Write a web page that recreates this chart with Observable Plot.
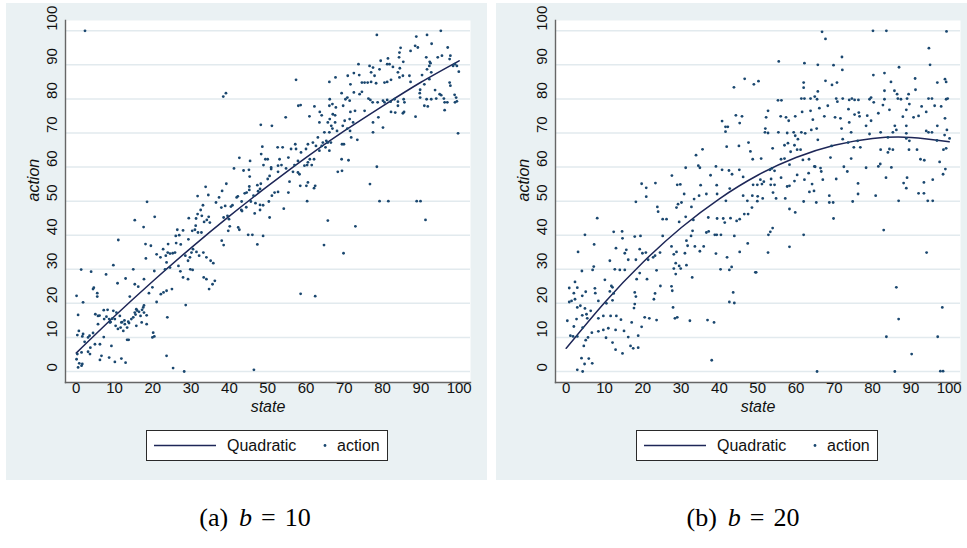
<!DOCTYPE html>
<html>
<head>
<meta charset="utf-8">
<script src="https://cdn.jsdelivr.net/npm/d3@7"></script>
<script src="https://cdn.jsdelivr.net/npm/@observablehq/plot@0.6"></script>
<style>
  html, body { margin: 0; padding: 0; background: #ffffff; }
  #page { position: relative; width: 967px; height: 548px; overflow: hidden; font-family: "Liberation Sans", Arial, sans-serif; }
  .panel { position: absolute; top: 3px; height: 477px; background: #eaf1f3; overflow: hidden; }
  .panel svg.chart { display: block; max-width: none; width: 481px; height: 420px; }
  .legend { position: absolute; left: 140px; top: 427px; width: 242px; height: 31px; box-sizing: border-box;
            background: #ffffff; border: 1px solid #2a2a2a; font-size: 16px; color: #111; }
  .legend .key { position: absolute; top: 50%; transform: translateY(-50%); white-space: nowrap; }
  .caption { position: absolute; top: 503px; width: 240px; text-align: center; white-space: nowrap;
             font-family: "Liberation Serif", "Times New Roman", serif; font-size: 26px; line-height: 30px; color: #000; }
  .caption .gap1 { margin-left: 11px; }
  .caption .gap2 { margin-left: 9px; margin-right: 9px; }
</style>
</head>
<body>
<div id="page">
  <div class="panel" id="panelA"></div>
  <div class="panel" id="panelB"></div>
  <div class="caption" id="capA"></div>
  <div class="caption" id="capB"></div>
</div>
<script>
// Axis ticks (both axes run 0..100 by 10)
const xTicks = [0, 10, 20, 30, 40, 50, 60, 70, 80, 90, 100];
const yTicks = [0, 10, 20, 30, 40, 50, 60, 70, 80, 90, 100];

// Quadratic fit of action on state, sampled at each x tick
const fitX = [0, 10, 20, 30, 40, 50, 60, 70, 80, 90, 100];
const fitA = [5.4, 16.2, 26.5, 36.3, 45.6, 54.4, 62.8, 70.6, 77.9, 84.9, 91.2];
const fitB = [6.8, 20.2, 32.0, 42.2, 50.7, 57.6, 62.8, 66.4, 68.4, 68.7, 67.4];

// Observations [state, action], b = 10
const pointsA = [
[2.3,100],[38.4,80.7],[39.1,81.7],[48.2,72.4],
[48.6,66.0],[48.3,63.8],[48.9,60.6],[42.6,62.7],[45.4,61.8],[43.7,59.0],[41.2,59.6],[45.1,59.2],[45.3,57.2],[49.4,62.3],[47.3,54.7],
[33.8,54.2],[34.5,51.8],[31.7,51.5],[39.2,55.1],[38.1,53.0],[37.3,51.1],[36.5,49.6],[18.5,49.8],[41.9,51.1],[42.2,51.4],[40.8,48.8],[43.2,49.9],[44.0,52.3],[44.5,52.5],[45.2,53.3],[45.2,54.3],[46.3,51.6],[45.6,49.9],[46.8,49.4],[48.0,48.9],[48.0,53.6],[48.2,55.1],[47.5,52.9],
[37.9,48.1],[38.9,48.6],[40.4,48.4],[43.1,47.4],[43.3,47.1],[44.4,48.2],[46.6,46.4],[48.0,47.4],[48.8,48.8],[38.5,45.2],[39.5,45.7],[39.9,44.7],[40.1,42.6],[39.7,41.3],[42.3,42.3],[42.6,41.6],[44.9,40.1],[46.0,40.1],[48.8,39.8],[47.3,37.3],
[33.1,48.8],[32.5,47.4],[31.7,46.2],[32.8,45.7],[31.3,44.9],[33.4,43.9],[34.1,44.5],[34.6,45.4],[31.2,42.8],[29.4,45.0],[31.0,41.6],[31.8,40.8],[26.4,41.6],[26.0,39.8],[26.9,40.0],[32.7,40.8],[30.3,41.3],[27.9,41.4],[34.9,43.7],[38.0,38.4],[38.5,37.1],[29.3,38.8],
[26.1,37.7],[27.3,37.3],[24.0,37.4],[22.7,35.9],[23.9,34.9],[24.5,34.6],[25.2,34.7],[25.8,34.9],[23.4,34.0],[23.6,32.0],[21.0,34.4],[22.0,33.5],[20.4,29.5],[18.1,37.4],[18.2,33.2],[19.5,36.9],[23.2,30.0],[24.5,30.5],[26.7,31.0],[27.2,29.4],[27.9,27.6],[28.5,34.0],[29.2,32.5],[29.7,33.5],[30.1,34.9],[30.5,35.9],[31.4,35.1],[32.1,34.0],[33.2,34.9],[34.0,33.5],[35.1,32.5],[35.8,31.8],[36.2,26.6],[35.6,25.6],[34.7,24.2],[33.3,27.6],[34.0,27.1],[29.8,30.0],[30.4,29.8],[29.2,27.1],[28.6,19.5],
[10.8,25.9],[12.9,27.3],[15.3,25.6],[16.2,24.9],[17.7,27.1],[14.9,30.0],[9.7,31.2],[11.0,38.6],[15.3,44.4],[17.6,42.4],[20.5,45.4],[1.3,29.9],[3.9,29.3],[4.4,24.2],[5.5,23.0],[5.5,22.0],[0.1,22.2],[1.8,20.3],[0.5,16.6],[7.8,28.5],[14.0,22.0],[19.0,23.0],[19.9,24.7],[21.0,20.4],[22.1,22.7],[22.8,23.2],[23.6,23.7],[25.0,24.2],[23.8,15.9],
[5.0,16.8],[5.7,16.3],[7.2,18.0],[8.2,18.1],[7.3,15.4],[5.7,13.9],[7.9,16.1],[8.6,15.4],[9.7,17.8],[10.1,15.4],[10.5,17.3],[11.4,16.3],[11.8,14.4],[10.3,13.4],[11.6,12.9],[12.7,13.9],[13.3,12.9],[12.3,11.9],[13.6,14.6],[14.4,15.4],[15.3,17.3],[15.7,18.3],[16.4,17.5],[16.8,16.3],[17.5,18.8],[17.7,17.3],[18.4,16.5],[17.1,14.4],[18.4,13.9],[15.7,13.4],[20.1,11.4],[19.9,10.0],[20.4,10.3],[13.7,9.3],[8.8,14.4],[9.2,7.5],[7.2,10.1],[6.2,8.0],[4.9,8.0],[3.5,10.5],[4.4,11.3],[3.1,10.0],[1.8,11.0],[1.6,10.3],[0.7,11.9],[0.3,10.7],[2.2,8.7],[3.7,7.0],[3.1,5.8],[3.6,5.1],[0.3,5.1],[1.4,5.6],[0.1,3.6],[0.8,2.4],[0.5,1.2],[1.4,1.7],[1.6,2.2],[6.6,4.6],[6.2,3.4],[8.6,4.1],[10.1,2.8],[11.8,3.8],[12.9,2.6],[23.6,4.6],[25.3,1.0],[28.2,0],[46.4,0.5],
[4.6,24.6],[6.1,16.4],[9.0,14.5],[9.4,15.5],[10.9,12.5],[12.0,14.5],[12.6,15.0],[13.8,14.2],[14.9,15.9],[15.5,16.7],[15.9,17.9],[17.2,18.1],[17.7,19.4],[13.3,9.3],
[95.2,100],[78.5,98.8],[88.8,98.3],[91.6,98.8],[92.8,96.2],[84.7,95.0],[84.4,93.6],[87.3,94.1],[88.5,95.6],[89.2,95.1],[97.0,95.1],[91.4,92.2],[92.3,90.9],[94.4,92.2],[95.5,92.7],[97.7,92.7],[97.5,91.7],[84.3,92.2],[81.4,91.9],[79.5,91.2],[81.2,90.2],[81.8,90.2],[82.7,89.4],[84.5,89.0],[85.4,90.9],[84.0,87.8],[84.4,86.3],[85.3,86.8],[87.0,86.8],[87.3,85.0],[90.3,87.0],[91.6,88.7],[92.5,90.5],[92.2,89.7],[92.7,87.8],[92.2,85.8],[90.9,84.3],[89.8,82.7],[89.7,81.7],[89.8,80.4],[91.5,79.9],[91.8,77.8],[90.9,78.0],[92.7,79.9],[93.7,82.6],[94.0,80.1],[94.9,81.4],[95.3,81.1],[96.0,80.1],[96.2,79.0],[96.9,79.0],[96.2,76.7],[97.5,84.8],[97.7,83.9],[98.4,89.7],[98.9,90.2],[99.4,89.7],[99.9,88.0],[98.8,81.2],[99.2,80.4],[98.9,79.0],[99.4,79.3],[99.7,69.9],[88.6,74.8],[88.9,50.0],[89.9,50.0],[91.2,44.5],[79.2,50.0],[81.5,50.0],[78.5,60.1],[76.7,55.0],[72.9,42.6],[69.8,34.7],[65.7,44.3],[64.7,37.1],[58.6,22.8],[62.4,22.1],[57.4,85.6],[51.1,72.1],[54.7,74.6],
[73.7,90.2],[76.6,89.7],[77.5,89.2],[77.0,87.8],[77.9,86.8],[79.2,88.7],[70.9,86.8],[72.5,87.6],[73.9,87.0],[74.6,84.8],[75.3,84.8],[76.1,84.8],[77.0,85.0],[78.3,84.6],[80.5,84.8],[81.2,85.0],[82.2,85.6],[66.1,85.0],[67.7,86.3],[69.3,81.7],[71.6,84.3],[66.2,79.9],[66.9,78.5],[67.8,77.5],[70.3,79.9],[70.8,80.4],[71.4,79.5],[72.5,81.9],[74.0,81.4],[74.6,82.1],[76.3,80.1],[76.8,79.7],[77.4,79.0],[78.7,79.0],[80.1,79.5],[80.5,79.0],[81.2,79.7],[82.1,79.2],[83.1,79.9],[84.0,79.2],[85.5,79.9],[85.7,79.0],[82.2,76.2],[83.3,76.0],[84.0,78.0],[85.3,75.8],[85.6,76.2],[78.9,74.6],[80.1,71.6],[77.5,73.1],[77.5,70.2],[75.3,76.5],[72.8,76.5],[71.6,76.2],[71.4,74.1],[72.3,73.1],[71.8,68.7],[73.4,68.0],[71.5,70.6],[70.8,71.3],[69.6,72.1],[70.1,73.6],[69.7,78.0],[66.1,78.0],[67.0,75.5],[67.6,75.2],[66.2,74.1],[67.6,73.1],[68.1,70.6],[66.6,72.1],[66.9,71.3],[66.1,70.2],[65.7,73.1],[64.8,70.2],[63.5,73.1],[64.1,75.2],[63.6,76.2],[62.2,77.8],[60.9,74.9],[58.6,78.2],[58.0,78.0],
[63.1,68.7],[64.4,67.2],[65.3,67.7],[65.7,67.2],[66.5,67.2],[69.4,66.7],[69.9,66.7],[63.5,64.8],[64.1,66.2],[65.1,65.8],[66.1,64.8],[61.8,67.2],[62.6,66.2],[60.5,66.7],[60.0,65.3],[58.7,64.3],[57.4,65.3],[57.2,66.7],[56.1,65.3],[53.9,65.8],[52.6,65.8],[53.1,62.3],[55.4,62.8],[57.9,61.8],[60.5,61.4],[61.0,62.3],[62.1,62.3],[60.3,60.6],[61.5,60.6],[57.0,60.6],[53.6,60.6],[52.7,60.4],[50.9,59.9],[50.0,62.3],
[50.5,57.4],[50.0,56.5],[50.9,59.4],[52.7,58.6],[54.8,59.6],[56.6,58.6],[57.9,58.4],[58.3,57.9],[59.6,60.4],[55.7,55.7],[60.5,55.5],[60.1,54.5],[62.4,54.5],[62.1,53.8],[58.5,54.5],[51.8,52.5],[52.7,52.7],[51.1,51.6],[50.3,49.9],[55.4,52.5],[54.2,47.8],[50.5,45.2],[60.3,50.0],[68.3,58.6],[69.4,58.9],[69.3,62.3],[71.1,62.0]
];

// Observations [state, action], b = 20
const pointsB = [
[46.6,85.9],[43.8,83.4],[49.0,84.3],[40.7,73.5],[41.6,71.8],[42.2,71.8],[41.6,70.4],[41.9,66.0],[44.3,75.2],[45.9,74.9],[45.3,72.9],[45.1,66.2],[47.6,67.2],[48.1,64.6],[48.7,62.3],[35.6,65.2],[33.9,63.5],[34.5,60.4],[34.9,59.8],[31.2,59.8],[27.6,57.5],[19.7,55.1],[20.9,53.9],[23.3,55.3],[20.9,51.3],[18.2,49.8],[29.0,54.8],[29.8,54.9],[30.8,52.1],[28.8,48.1],[29.2,49.1],[30.1,49.6],[29.5,43.9],[31.2,45.4],[32.7,48.3],[33.4,50.6],[33.2,44.5],[35.1,54.7],[34.7,51.6],[36.6,52.1],[37.7,57.6],[39.1,60.2],[39.3,54.7],[39.4,52.1],[40.7,59.2],[42.5,59.0],[42.7,53.7],[43.3,57.9],[45.2,59.2],[46.2,57.1],[46.2,51.6],[47.3,50.1],[48.6,51.6],[48.8,54.8],[48.5,48.1],[47.5,46.2],[46.5,46.2],[45.3,44.7],[44.5,44.2],[42.9,45.0],[41.0,44.9],[39.4,44.9],[41.7,50.1],[37.1,45.2],[38.8,40.1],[39.3,40.1],[40.4,40.1],[36.6,40.8],[37.2,41.1],[33.0,41.3],[32.6,39.8],[31.4,38.4],[31.7,36.9],[31.0,34.7],[33.6,36.7],[34.9,35.3],[35.9,36.7],[32.9,27.6],[31.4,31.2],[27.5,36.7],[28.1,34.4],[28.8,35.1],[28.6,31.8],[29.5,31.0],[29.9,30.2],[28.1,30.2],[28.6,28.6],[27.5,25.0],[27.7,23.7],[27.9,18.8],[28.4,15.6],[29.0,15.9],[32.3,14.9],[36.9,15.1],[38.6,14.4],[38.0,3.3],[39.1,34.6],[40.3,30.0],[42.0,33.5],[42.6,29.8],[43.2,30.7],[43.6,23.2],[42.6,20.4],[43.9,20.1],[45.3,35.1],[47.4,37.6],[49.4,29.1],[43.9,39.8],[41.4,43.7],
[8.1,45.0],[4.9,40.1],[3.1,35.1],[4.1,29.5],[6.9,29.8],[7.2,30.8],[7.3,37.3],[0.8,24.5],[2.3,26.3],[2.9,24.6],[2.0,23.0],[1.4,20.7],[0.8,20.4],[2.3,21.2],[2.9,18.8],[3.7,19.3],[4.9,18.5],[5.1,23.4],[4.2,22.2],[0.3,14.9],[2.0,13.2],[2.7,15.4],[4.2,16.5],[5.3,16.8],[5.5,15.6],[6.4,17.8],[4.3,12.9],[1.1,10.5],[1.8,10.3],[2.9,10.3],[5.1,9.2],[5.7,10.0],[6.7,11.4],[4.6,7.5],[4.0,3.9],[5.9,3.8],[4.8,2.2],[6.8,2.4],[2.9,0.5],[4.3,0],[7.5,24.4],[7.6,23.0],[8.4,20.7],[8.4,15.6],[9.7,16.3],[10.5,20.0],[11.4,23.5],[11.8,25.1],[10.1,26.9],[12.1,24.7],[12.1,20.9],[12.4,22.9],[11.4,32.5],[12.7,30.0],[14.0,29.8],[15.3,29.8],[12.4,41.0],[13.0,36.2],[14.6,41.1],[14.7,39.1],[15.7,35.7],[15.3,34.7],[16.2,32.8],[17.9,39.6],[18.2,32.8],[19.2,35.9],[19.4,39.8],[18.4,27.1],[19.2,28.9],[19.9,34.7],[20.8,34.9],[21.4,32.8],[22.7,33.5],[23.2,34.0],[23.6,29.7],[21.1,27.1],[24.6,25.1],[25.2,39.8],[24.5,34.9],[23.2,22.9],[22.9,21.2],[23.6,15.1],[20.5,15.9],[21.7,15.6],[19.7,13.1],[18.8,10.5],[17.9,23.2],[18.2,22.0],[17.9,19.8],[17.7,18.6],[17.1,14.4],[14.3,15.2],[13.1,16.3],[12.9,12.2],[11.6,16.3],[11.0,12.7],[9.7,12.2],[8.4,11.8],[10.4,9.9],[12.1,8.5],[12.9,6.4],[14.7,5.3],[15.1,11.9],[16.2,10.1],[16.8,7.5],[17.5,6.8],[18.8,7.0],[25.2,44.7],[26.2,44.7],[24.0,46.9],[23.8,48.3],
[66.8,99.7],[67.7,97.6],[80.1,100],[83.6,100],[99.3,99.8],[94.7,94.9],[95.0,90.0],[55.5,91.0],[62.2,90.5],[65.7,90.0],[69.8,89.9],[72.0,92.3],[72.1,88.5],[80.2,87.0],[83.1,87.6],[86.9,89.3],[91.1,86.0],[91.2,82.7],[96.9,84.8],[98.9,85.8],[99.2,85.0],[99.2,79.9],[99.6,80.1],[67.7,85.3],[69.4,84.1],[70.7,84.8],[62.0,84.8],[62.0,83.3],[65.7,82.2],[50.2,85.2],[52.7,76.5],[52.2,74.6],[52.0,71.3],[51.9,70.2],[52.7,70.0],[53.9,65.5],[55.3,79.6],[56.2,79.6],[56.0,74.9],[57.4,74.6],[58.1,73.6],[59.8,74.9],[61.6,76.2],[61.4,80.1],[62.2,80.1],[63.8,80.1],[64.9,80.7],[65.5,79.9],[63.8,76.5],[66.1,77.3],[67.4,74.9],[68.3,78.0],[70.5,80.1],[70.8,79.2],[70.2,74.6],[71.6,74.3],[72.2,80.1],[73.9,79.7],[74.6,80.1],[75.3,79.7],[76.3,79.7],[73.7,77.0],[75.3,75.4],[76.4,76.0],[76.6,74.9],[78.6,75.1],[79.2,79.9],[79.6,80.4],[80.3,79.0],[81.5,75.8],[82.7,78.2],[83.1,79.9],[83.1,82.4],[84.4,76.8],[84.8,85.0],[85.7,82.4],[86.4,81.4],[86.6,80.1],[87.4,79.9],[89.0,80.1],[89.4,81.4],[89.6,78.5],[88.8,76.8],[87.9,74.8],[90.7,74.6],[92.0,75.0],[92.8,77.8],[94.0,76.2],[94.6,80.1],[95.5,80.1],[96.2,78.0],[97.9,77.8],[98.9,74.3],[96.9,72.1],[94.0,70.6],[94.6,70.2],[95.5,70.2],[99.4,70.9],[98.8,69.4],[100.1,68.4],[96.8,67.8],[97.5,61.5],[98.4,57.9],[99.0,59.4],[99.2,65.5],[98.5,65.1],[95.7,56.3],[94.4,50.1],[95.7,50.1],[93.4,55.5],[93.4,52.3],[92.0,52.3],[92.5,62.3],[93.5,62.0],[91.6,65.1],[89.5,65.1],[89.6,67.7],[88.8,68.4],[88.8,69.9],[88.8,72.1],[85.8,72.1],[86.2,70.9],[85.3,70.2],[84.0,68.7],[82.1,70.2],[79.6,73.6],[79.2,69.7],[78.3,72.1],[76.8,65.8],[76.1,67.7],[75.1,65.8],[74.4,62.5],[73.6,67.2],[74.4,70.2],[73.9,73.1],[71.9,71.3],[72.2,68.2],[69.3,66.2],[69.0,62.8],[70.5,56.5],[72.5,60.1],[73.4,58.7],[76.2,55.2],[76.2,52.1],[74.8,49.9],[78.3,59.8],[80.8,51.6],[81.5,60.2],[82.0,60.9],[83.5,56.9],[84.9,59.9],[82.1,65.1],[84.0,64.3],[84.4,65.3],[85.3,65.1],[86.8,50.1],[88.1,55.3],[88.8,53.8],[89.0,56.9],[82.9,41.5],[86.2,24.7],[86.8,15.4],[83.6,10.2],[90.2,5.1],[94.1,34.9],[97.0,10.2],[98.2,18.8],[65.5,0],[85.8,0],[97.7,0.1],[98.4,0.1],
[49.6,29.1],[52.7,34.9],[52.8,40.1],[53.3,41.0],[53.9,42.1],[58.3,36.6],[62.0,40.1],[59.8,46.7],[58.3,47.7],[62.0,49.9],[65.3,49.6],[68.7,49.6],[69.7,49.6],[69.8,44.9],[63.5,52.7],[64.7,53.0],[68.7,51.6],[64.2,55.0],[66.6,58.7],[66.4,59.7],[65.0,60.1],[67.0,56.3],[62.2,56.3],[63.3,58.2],[59.6,55.9],[60.3,57.7],[58.3,54.5],[57.7,54.3],[56.1,56.9],[54.4,54.8],[53.4,54.8],[54.0,52.5],[54.8,50.8],[53.5,56.5],[54.4,58.9],[53.7,59.6],[53.2,59.2],[51.6,55.7],[51.1,55.0],[50.7,56.3],[49.9,54.8],[50.0,51.4],[49.9,50.0],[51.3,50.8],[57.2,50.8],[56.1,62.3],[57.0,62.5],[58.3,60.7],[58.6,64.5],[57.9,67.0],[57.0,66.4],[59.6,66.4],[59.8,69.2],[60.5,68.2],[60.3,65.1],[61.2,65.1],[61.4,70.2],[62.4,69.9],[61.8,62.1],[63.4,62.3],[64.0,70.9],[65.4,71.3],[65.7,68.0],[64.8,60.2],[64.4,73.9],[59.4,70.2],[57.7,70.0],[55.4,70.2],[50.9,62.5]
];

// Sub-figure captions
const captionTags = ["(a)", "(b)"];
const bValues = [10, 20];

const GRID = "#e2eaee";
const AXIS = "#666666";
const POINT = "#1a476f";
const LINE = "#1d2657";

function scatterPanel(points, fit) {
  const fitData = fitX.map((x, i) => ({state: x, action: fit[i]}));
  const svg = Plot.plot({
    width: 481,
    height: 420,
    marginLeft: 59,
    marginRight: 17,
    marginTop: 17,
    marginBottom: 41,
    style: {background: "transparent", fontFamily: "'Liberation Sans', Arial, sans-serif", color: "#111"},
    x: {domain: [-2.79, 102.95], axis: null},
    y: {domain: [-3.23, 103.02], axis: null},
    marks: [
      Plot.frame({fill: "white", stroke: null}),
      Plot.gridY(yTicks, {stroke: GRID, strokeOpacity: 1, strokeWidth: 1.5}),
      Plot.frame({anchor: "left", stroke: AXIS, strokeWidth: 1.4}),
      Plot.frame({anchor: "bottom", stroke: AXIS, strokeWidth: 1.4}),
      Plot.text(yTicks, {y: d => d, text: d => String(d), frameAnchor: "left", rotate: -90, dx: -13, fontSize: 15}),
      Plot.text(xTicks, {x: d => d, text: d => String(d), frameAnchor: "bottom", dy: 10, fontSize: 15}),
      Plot.text(["action"], {text: d => d, frameAnchor: "left", rotate: -90, dx: -32, fontSize: 16, fontStyle: "italic"}),
      Plot.text(["state"], {text: d => d, frameAnchor: "bottom", dy: 29, fontSize: 16, fontStyle: "italic"}),
      Plot.line(fitData, {x: "state", y: "action", stroke: LINE, strokeWidth: 1.5, curve: "natural"}),
      Plot.dot(points, {x: d => d[0], y: d => d[1], r: 1.4, fill: POINT})
    ]
  });
  svg.classList.add("chart");
  return svg;
}

function legendBox() {
  const box = document.createElement("div");
  box.className = "legend";
  box.innerHTML =
    `<svg width="240" height="29" style="position:absolute;left:0;top:0">
       <line x1="7" x2="69" y1="14.5" y2="14.5" stroke="${LINE}" stroke-width="1.5"/>
       <circle cx="178" cy="14.5" r="1.4" fill="${POINT}"/>
     </svg>
     <span class="key" style="left:80px">Quadratic</span>
     <span class="key" style="left:190px">action</span>`;
  return box;
}

function caption(el, tag, b, center) {
  el.style.left = (center - 120) + "px";
  el.innerHTML = `${tag}<span class="gap1"></span><i>b</i><span class="gap2">=</span>${b}`;
}

const panelA = document.getElementById("panelA");
panelA.style.left = "6px";
panelA.style.width = "481px";
panelA.append(scatterPanel(pointsA, fitA), legendBox());

const panelB = document.getElementById("panelB");
panelB.style.left = "496px";
panelB.style.width = "471px";
panelB.append(scatterPanel(pointsB, fitB), legendBox());

caption(document.getElementById("capA"), captionTags[0], bValues[0], 255);
caption(document.getElementById("capB"), captionTags[1], bValues[1], 743);
</script>
</body>
</html>
